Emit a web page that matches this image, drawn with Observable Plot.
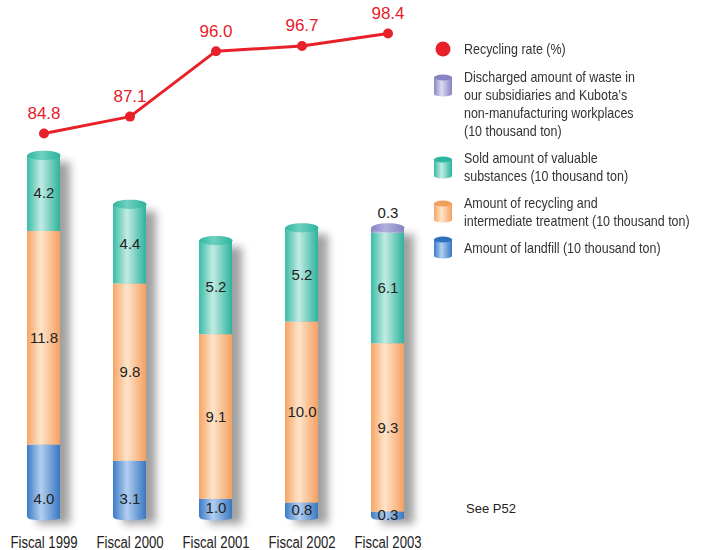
<!DOCTYPE html>
<html><head><meta charset="utf-8">
<script src="https://cdn.jsdelivr.net/npm/d3@7"></script>
<script src="https://cdn.jsdelivr.net/npm/@observablehq/plot@0.6"></script>
<style>
body{margin:0;background:#fff;}
#wrap{position:relative;width:707px;height:550px;overflow:hidden;background:#fff;font-family:"Liberation Sans",Arial,sans-serif;}
#wrap > svg{position:absolute;left:0;top:0;}
.leg{position:absolute;left:464px;color:#333;font-size:15px;line-height:18px;white-space:nowrap;transform:scaleX(0.83);transform-origin:0 0;}
.ico{position:absolute;}
.see{position:absolute;left:466px;top:501px;font-size:13px;color:#222;}
</style></head><body><div id="wrap"></div>
<script>
// ---- data ----
const years = ["Fiscal 1999", "Fiscal 2000", "Fiscal 2001", "Fiscal 2002", "Fiscal 2003"];
const landfill   = [4.0, 3.1, 1.0, 0.8, 0.3];
const recycling  = [11.8, 9.8, 9.1, 10.0, 9.3];
const sold       = [4.2, 4.4, 5.2, 5.2, 6.1];
const discharged = [0, 0, 0, 0, 0.3];
const rate       = [84.8, 87.1, 96.0, 96.7, 98.4];
const seriesKeys = ["landfill", "recycling", "sold", "discharged"];
const legendLabels = [
  ["Recycling rate (%)"],
  ["Discharged amount of waste in", "our subsidiaries and Kubota\u2019s", "non-manufacturing workplaces", "(10 thousand ton)"],
  ["Sold amount of valuable", "substances (10 thousand ton)"],
  ["Amount of recycling and", "intermediate treatment (10 thousand ton)"],
  ["Amount of landfill (10 thousand ton)"]
];

// ---- colours ----
const grads = {
  landfill:   ["#3a7bc8", "#b3cff0", "#3877c2"],
  recycling:  ["#f6a565", "#fee4ca", "#f4a061"],
  sold:       ["#37bca5", "#c2ebe3", "#2db39c"],
  discharged: ["#8a87c7", "#dcdcf2", "#8683c2"]
};
const caps = {
  sold: ["#2db7a0", "#6fd0c0", "#2ab39c"],
  discharged: ["#8783c4", "#b3b1de", "#8380c0"]
};

const valueSeries = [landfill, recycling, sold, discharged];
const rows = [];
years.forEach((yr, i) => seriesKeys.forEach((k, j) => rows.push({year: yr, series: k, value: valueSeries[j][i]})));

const totals = years.map((yr, i) => ({
  year: yr,
  total: d3.sum(valueSeries, s => s[i]),
  cap: discharged[i] > 0 ? "discharged" : "sold"
}));

// label rows
const inner = [], above = [];
years.forEach((yr, i) => {
  let base = 0;
  seriesKeys.forEach((k, j) => {
    const v = valueSeries[j][i];
    if (v > 0) {
      if (k === "landfill") inner.push({year: yr, y: Math.min(v / 2, 1.0), text: v.toFixed(1)});
      else if (k === "discharged") above.push({year: yr, y: base + v, text: v.toFixed(1)});
      else inner.push({year: yr, y: base + v / 2, text: v.toFixed(1)});
    }
    base += v;
  });
});

const ellipse = (rx, ry) => ({
  draw(ctx) {
    const k = 0.5523;
    ctx.moveTo(-rx, 0);
    ctx.bezierCurveTo(-rx, -ry * k, -rx * k, -ry, 0, -ry);
    ctx.bezierCurveTo(rx * k, -ry, rx, -ry * k, rx, 0);
    ctx.bezierCurveTo(rx, ry * k, rx * k, ry, 0, ry);
    ctx.bezierCurveTo(-rx * k, ry, -rx, ry * k, -rx, 0);
    ctx.closePath();
  }
});

const xScale = {type: "band", domain: years, range: [0, 430], paddingInner: 0.6176, paddingOuter: 0.3};
const SANS = '"Liberation Sans",Arial,sans-serif';

const bars = Plot.plot({
  width: 707, height: 550,
  marginTop: 0, marginBottom: 33, marginLeft: 0, marginRight: 0,
  x: xScale,
  y: {domain: [0, 28.56], axis: null},
  color: {type: "identity"},
  style: {fontFamily: SANS, fontSize: "16px", color: "#222", background: "transparent", overflow: "visible"},
  marks: [
    Plot.barY(totals, {x: "year", y: "total", fill: "#888", dx: 10, dy: 7, ariaDescription: "shadow"}),
    Plot.dot(years, {x: d => d, y: 0, symbol: ellipse(16.5, 3), r: 5, fill: "url(#g-landfill)"}),
    Plot.barY(rows, {x: "year", y: "value", fill: d => `url(#g-${d.series})`}),
    Plot.dot(totals, {x: "year", y: "total", symbol: ellipse(16.5, 4.6), r: 5, fill: d => `url(#c-${d.cap})`}),
    Plot.text(inner, {x: "year", y: "y", text: "text", fontSize: 15, fill: "#222"}),
    Plot.text(above, {x: "year", y: "y", dy: -15, text: "text", fontSize: 15, fill: "#222"}),
    Plot.axisX({tickSize: 0, tickPadding: 19, label: null, fontSize: 16, fill: "#222"})
  ]
});

// gradients + shadow filter
const svgSel = d3.select(bars);
const defs = svgSel.insert("defs", ":first-child");
function addGrad(id, c) {
  const g = defs.append("linearGradient").attr("id", id).attr("x1", "0").attr("x2", "1").attr("y1", "0").attr("y2", "0");
  g.append("stop").attr("offset", "0%").attr("stop-color", c[0]);
  g.append("stop").attr("offset", "42%").attr("stop-color", c[1]);
  g.append("stop").attr("offset", "100%").attr("stop-color", c[2]);
}
Object.entries(grads).forEach(([k, c]) => addGrad("g-" + k, c));
Object.entries(caps).forEach(([k, c]) => addGrad("c-" + k, c));
const f = defs.append("filter").attr("id", "blur").attr("x", "-50%").attr("y", "-20%").attr("width", "200%").attr("height", "140%");
f.append("feGaussianBlur").attr("stdDeviation", 4.5);
svgSel.selectAll('g[aria-description="shadow"]').attr("filter", "url(#blur)").attr("opacity", 0.8);

const lineData = years.map((yr, i) => ({year: yr, rate: rate[i]}));
const line = Plot.plot({
  width: 707, height: 550,
  marginTop: 0, marginBottom: 33, marginLeft: 0, marginRight: 0,
  x: {...xScale, axis: null},
  y: {domain: [32.58, 102.89], axis: null},
  style: {background: "transparent", overflow: "visible"},
  marks: [
    Plot.line(lineData, {x: "year", y: "rate", stroke: "#e8202a", strokeWidth: 3}),
    Plot.dot(lineData, {x: "year", y: "rate", r: 5, fill: "#e8202a"}),
    Plot.text(lineData, {x: "year", y: "rate", text: d => d.rate.toFixed(1), dy: -20, fill: "#e8202a", fontSize: 17, fontFamily: SANS})
  ]
});

const wrap = document.getElementById("wrap");
wrap.appendChild(bars);
wrap.appendChild(line);

// condense the fiscal-year tick labels (Arial Narrow look)
svgSel.selectAll('g[aria-label="x-axis tick label"] text').each(function () {
  const L = this.getComputedTextLength();
  this.setAttribute("textLength", (L * 0.82).toFixed(1));
  this.setAttribute("lengthAdjust", "spacingAndGlyphs");
});

// legend
const legTops = [49, 77, 158, 203, 248];
const legIcons = [null, "discharged", "sold", "recycling", "landfill"];
const iconCenters = [49, 86, 168, 212, 248];
const capCols = {discharged: "#8783c4", sold: "#2db7a0", recycling: "#f39f5c", landfill: "#3170be"};
legendLabels.forEach((lines, i) => {
  const d = document.createElement("div");
  d.className = "leg";
  d.style.top = (legTops[i] - 9) + "px";
  d.innerHTML = lines.join("<br>");
  wrap.appendChild(d);
  const ns = "http://www.w3.org/2000/svg";
  const s = document.createElementNS(ns, "svg");
  s.setAttribute("class", "ico");
  s.setAttribute("width", 22); s.setAttribute("height", 26);
  s.style.left = "433px"; s.style.top = (iconCenters[i] - 13) + "px";
  if (legIcons[i] === null) {
    s.innerHTML = `<circle cx="10" cy="13" r="7.5" fill="#e8202a"/>`;
  } else {
    const c = grads[legIcons[i]];
    s.innerHTML = `<defs><linearGradient id="li${i}" x1="0" x2="1"><stop offset="0" stop-color="${c[0]}"/><stop offset="0.42" stop-color="${c[1]}"/><stop offset="1" stop-color="${c[2]}"/></linearGradient></defs>
      <rect x="1" y="4" width="18" height="17" fill="url(#li${i})"/>
      <ellipse cx="10" cy="21" rx="9" ry="2.5" fill="url(#li${i})"/>
      <ellipse cx="10" cy="4.5" rx="9" ry="3" fill="${capCols[legIcons[i]]}"/>`;
  }
  wrap.appendChild(s);
});
const see = document.createElement("div");
see.className = "see"; see.textContent = "See P52";
wrap.appendChild(see);
</script>
</body></html>
